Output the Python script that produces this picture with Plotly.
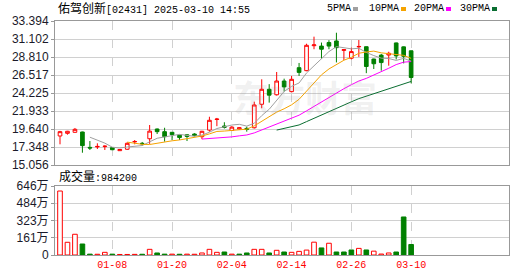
import plotly.graph_objects as go
import pandas as pd

dates = ["2024-12-27", "2024-12-30", "2024-12-31", "2025-01-02", "2025-01-03", "2025-01-06",
         "2025-01-07", "2025-01-08", "2025-01-09", "2025-01-10", "2025-01-13", "2025-01-14",
         "2025-01-15", "2025-01-16", "2025-01-17", "2025-01-20", "2025-01-21", "2025-01-22",
         "2025-01-23", "2025-01-24", "2025-01-27", "2025-01-28", "2025-02-03", "2025-02-04",
         "2025-02-05", "2025-02-06", "2025-02-07", "2025-02-10", "2025-02-11", "2025-02-12",
         "2025-02-13", "2025-02-14", "2025-02-17", "2025-02-18", "2025-02-19", "2025-02-20",
         "2025-02-21", "2025-02-24", "2025-02-25", "2025-02-26", "2025-02-27", "2025-02-28",
         "2025-03-03", "2025-03-04", "2025-03-05", "2025-03-06", "2025-03-07", "2025-03-10"]

open_ = [18.75, 19.09, 19.22, 19.26, 17.30, 17.36, 17.40, 17.26, 16.88, 17.06, 18.00, 17.82,
         18.40, 19.64, 19.30, 19.22, 18.85, 18.90, 19.00, 18.66, 19.50, 20.85, 20.02, 19.45,
         19.65, 19.72, 19.80, 22.79, 24.70, 24.00, 25.75, 24.40, 27.45, 27.07, 30.25, 30.20,
         30.65, 30.85, 29.65, 28.65, 30.10, 30.12, 28.55, 29.05, 29.06, 30.60, 30.10, 29.60]
high = [19.40, 19.40, 19.77, 19.30, 18.11, 17.82, 17.56, 17.30, 17.05, 17.95, 18.24, 17.99,
        20.15, 19.70, 19.80, 19.25, 18.90, 18.97, 19.10, 19.40, 21.20, 21.05, 20.50, 20.00,
        19.85, 19.94, 23.12, 25.97, 25.35, 26.90, 26.05, 26.40, 28.05, 30.50, 31.40, 30.65,
        30.95, 31.90, 29.80, 30.00, 30.97, 30.15, 28.60, 29.20, 29.48, 30.65, 30.15, 29.62]
low = [17.69, 18.92, 19.20, 16.62, 16.97, 17.09, 16.97, 16.95, 16.85, 17.00, 17.69, 17.52,
       17.75, 19.00, 18.03, 18.24, 18.24, 18.11, 18.70, 18.35, 19.30, 20.00, 19.70, 19.40,
       19.55, 19.30, 19.70, 22.28, 23.00, 23.90, 24.40, 24.30, 26.40, 27.00, 29.80, 28.60,
       29.80, 28.12, 28.43, 28.51, 28.82, 26.75, 27.28, 27.07, 27.70, 28.50, 28.00, 25.46]
close = [19.30, 19.35, 19.60, 17.52, 17.22, 17.42, 17.45, 17.00, 17.03, 17.82, 18.05, 17.77,
         19.37, 19.30, 18.66, 18.92, 18.55, 18.70, 18.80, 19.35, 20.75, 20.90, 19.85, 19.88,
         19.80, 19.62, 22.70, 24.70, 23.95, 25.75, 25.00, 25.97, 26.85, 30.30, 30.35, 29.80,
         30.20, 30.00, 29.75, 29.50, 30.15, 27.60, 27.95, 28.10, 29.28, 28.95, 28.90, 26.20]
# volume in 万 shares
volume = [599, 119, 194, 103, 8, 7, 25, 8, 5, 5, 6, 7,
          53, 19, 8, 8, 7, 8, 7, 19, 53, 25, 28, 8,
          8, 19, 53, 53, 19, 44, 28, 25, 34, 46, 120, 66,
          110, 28, 28, 47, 62, 47, 36, 9, 19, 28, 356, 98.42]

tick_dates = ["01-08", "01-20", "02-04", "02-14", "02-26", "03-10"]
price_ticks = ["15.056", "17.348", "19.640", "21.933", "24.225", "26.517", "28.810", "31.102", "33.394"]
vol_ticks = [0, 161.5, 323, 484.5, 646]
vol_tick_labels = ["0", "161万", "323万", "484万", "646万"]
ma_periods = [5, 10, 20, 30]
ma_colors = ["#a0a0a0", "#f5a300", "#ff00ff", "#0a6e31"]

UP = "#ff0000"
DOWN = "#008000"

x = list(range(len(dates)))
tickvals = [i for i, d in enumerate(dates) if d[5:] in tick_dates]
ticktext = [dates[i][5:] for i in tickvals]

fig = go.Figure()

fig.add_trace(go.Candlestick(
    x=x, open=open_, high=high, low=low, close=close,
    increasing=dict(line=dict(color=UP, width=1), fillcolor="white"),
    decreasing=dict(line=dict(color=DOWN, width=1), fillcolor=DOWN),
    whiskerwidth=0, hoverinfo="skip", xaxis="x", yaxis="y", showlegend=False))

cs = pd.Series(close)
for p, c in zip(ma_periods, ma_colors):
    ma = cs.rolling(p).mean()
    fig.add_trace(go.Scatter(x=x, y=ma, mode="lines", line=dict(color=c, width=1),
                             hoverinfo="skip", showlegend=False, xaxis="x", yaxis="y"))

vcolors, vlines = [], []
for i in range(len(close)):
    up = True if i == 0 else close[i] >= close[i - 1]
    vcolors.append("white" if up else DOWN)
    vlines.append(UP if up else DOWN)
fig.add_trace(go.Bar(x=x, y=volume, width=0.62,
                     marker=dict(color=vcolors, line=dict(color=vlines, width=1)),
                     hoverinfo="skip", showlegend=False, xaxis="x2", yaxis="y2"))

L, R, T, B = 55, 21, 21, 21
W, H = 530, 276
pw, ph = W - L - R, H - T - B

def px(xp):
    return (xp - L) / pw

def py(yp):
    return (H - B - yp) / ph

xr = [-0.67, 60.1]
axis_common = dict(range=xr, tickvals=tickvals, showgrid=True, gridcolor="#d0d0d0",
                   griddash="dash", gridwidth=1, zeroline=False, showline=True,
                   mirror=True, linecolor="#999999", linewidth=1, ticks="", automargin=False)
yaxis_common = dict(ticks="outside", ticklen=3, tickcolor="#999999",
                    showgrid=True, gridcolor="#d0d0d0", zeroline=False, showline=True,
                    mirror=True, linecolor="#999999", linewidth=1, automargin=False)
fig.update_layout(
    width=W, height=H, margin=dict(l=L, r=R, t=T, b=B, autoexpand=False),
    paper_bgcolor="white", plot_bgcolor="white",
    xaxis=dict(domain=[0, 1], anchor="y", showticklabels=False,
               rangeslider=dict(visible=False), **axis_common),
    xaxis2=dict(domain=[0, 1], anchor="y2", matches="x", ticktext=ticktext,
                tickfont=dict(family="Liberation Mono", size=10, color="#ff0000"),
                **axis_common),
    yaxis=dict(domain=[py(165), 1], range=[15.056, 33.394],
               tickvals=[float(t) for t in price_ticks], ticktext=price_ticks,
               tickfont=dict(family="Liberation Sans", size=12, color="#1a1a2a"),
               **yaxis_common),
    yaxis2=dict(domain=[0, py(186)], range=[0, 646],
                tickvals=vol_ticks, ticktext=vol_tick_labels,
                tickfont=dict(family="Liberation Sans, Noto Sans CJK SC", size=12, color="#1a1a2a"),
                **yaxis_common),
    boxgap=0.3,
    bargap=0.35,
    font=dict(family="Liberation Mono, Noto Sans CJK SC", size=10, color="#000000"),
)

ann = []
# watermark
ann.append(dict(xref="paper", yref="paper", x=px(305), y=py(96), text="东方财富",
                showarrow=False, xanchor="center", yanchor="middle",
                font=dict(family="Noto Sans CJK SC", size=36, color="rgba(150,150,150,0.14)", weight="bold")))
# title
ann.append(dict(xref="paper", yref="paper", x=px(56), y=py(9),
                text='<span style="font-size:12px">佑驾创新</span>[02431] 2025-03-10 14:55',
                showarrow=False, xanchor="left", yanchor="middle",
                font=dict(family="Liberation Mono, Noto Sans CJK SC", size=10, color="#000000")))
# MA legend
leg_x = [325, 367, 412, 458]
for p, c, lx in zip(ma_periods, ma_colors, leg_x):
    label = f"{p}PMA"
    ann.append(dict(xref="paper", yref="paper", x=px(lx), y=py(9), text=label,
                    showarrow=False, xanchor="left", yanchor="middle",
                    font=dict(family="Liberation Mono", size=10, color="#000000")))
    sx = lx + 6 * len(label) + 4
    fig.add_shape(type="rect", xref="paper", yref="paper",
                  x0=px(sx), x1=px(sx + 5), y0=py(11), y1=py(7),
                  fillcolor=c, line=dict(width=0))
# volume label
ann.append(dict(xref="paper", yref="paper", x=px(57), y=py(177),
                text=f'<span style="font-size:12px">成交量</span>:{int(round(volume[-1] * 10000))}',
                showarrow=False, xanchor="left", yanchor="middle",
                font=dict(family="Liberation Mono, Noto Sans CJK SC", size=10, color="#000000")))
fig.update_layout(annotations=ann)

fig.write_html("out.html")
